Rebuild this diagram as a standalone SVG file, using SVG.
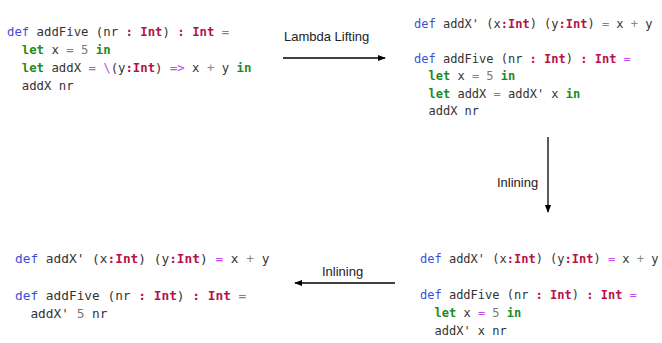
<svg xmlns="http://www.w3.org/2000/svg" width="662" height="343" viewBox="0 0 662 343">
<defs>
<style>
.code{font-family:"DejaVu Sans Mono","Liberation Mono",monospace;fill:#333;white-space:pre}
.k{fill:#3d4fd6}
.t{fill:#b5124a;font-weight:bold}
.l{fill:#1f8a1f;font-weight:bold}
.o{fill:#c24ce8}
.n{fill:#777}
.g{fill:#888}
.lbl{font-family:"Liberation Sans",Arial,sans-serif;font-size:13px;fill:#222}
.edge{stroke:#000;stroke-width:1.3;fill:none}
</style>
<marker id="ah" viewBox="0 0 10 10" refX="9" refY="5" markerWidth="8" markerHeight="8" markerUnits="userSpaceOnUse" orient="auto">
<path d="M0,1 L10,5 L0,9 z" fill="#000"/>
</marker>
</defs>
<rect width="662" height="343" fill="#fff"/>

<g id="node-original" class="code" font-size="12.3">
<text x="7" y="35.5"><tspan class="k">def</tspan> addFive (nr <tspan class="t">:</tspan> <tspan class="t">Int</tspan>) <tspan class="t">:</tspan> <tspan class="t">Int</tspan> <tspan class="o">=</tspan></text>
<text x="21.8" y="53.5"><tspan class="l">let</tspan> x <tspan class="o">=</tspan> <tspan class="n">5</tspan> <tspan class="l">in</tspan></text>
<text x="21.8" y="71.5"><tspan class="l">let</tspan> addX <tspan class="o">=</tspan> <tspan class="o">\</tspan>(y<tspan class="t">:Int</tspan>) <tspan class="o">=&gt;</tspan> x <tspan class="g">+</tspan> y <tspan class="l">in</tspan></text>
<text x="21.8" y="89.5">addX nr</text>
</g>

<g id="node-lifted" class="code" font-size="12">
<text x="414" y="27.5"><tspan class="k">def</tspan> addX' (x<tspan class="t">:Int</tspan>) (y<tspan class="t">:Int</tspan>) <tspan class="o">=</tspan> x <tspan class="g">+</tspan> y</text>
<text x="414" y="62.5"><tspan class="k">def</tspan> addFive (nr <tspan class="t">:</tspan> <tspan class="t">Int</tspan>) <tspan class="t">:</tspan> <tspan class="t">Int</tspan> <tspan class="o">=</tspan></text>
<text x="428.5" y="80"><tspan class="l">let</tspan> x <tspan class="o">=</tspan> <tspan class="n">5</tspan> <tspan class="l">in</tspan></text>
<text x="428.5" y="97.5"><tspan class="l">let</tspan> addX <tspan class="o">=</tspan> addX' x <tspan class="l">in</tspan></text>
<text x="428.5" y="115">addX nr</text>
</g>

<g id="node-inlined1" class="code" font-size="12">
<text x="420" y="262.5"><tspan class="k">def</tspan> addX' (x<tspan class="t">:Int</tspan>) (y<tspan class="t">:Int</tspan>) <tspan class="o">=</tspan> x <tspan class="g">+</tspan> y</text>
<text x="420" y="298.5"><tspan class="k">def</tspan> addFive (nr <tspan class="t">:</tspan> <tspan class="t">Int</tspan>) <tspan class="t">:</tspan> <tspan class="t">Int</tspan> <tspan class="o">=</tspan></text>
<text x="434.5" y="316.5"><tspan class="l">let</tspan> x <tspan class="o">=</tspan> <tspan class="n">5</tspan> <tspan class="l">in</tspan></text>
<text x="434.5" y="334.5">addX' x nr</text>
</g>

<g id="node-inlined2" class="code" font-size="12.8">
<text x="15" y="262.5"><tspan class="k">def</tspan> addX' (x<tspan class="t">:Int</tspan>) (y<tspan class="t">:Int</tspan>) <tspan class="o">=</tspan> x <tspan class="g">+</tspan> y</text>
<text x="15" y="299.5"><tspan class="k">def</tspan> addFive (nr <tspan class="t">:</tspan> <tspan class="t">Int</tspan>) <tspan class="t">:</tspan> <tspan class="t">Int</tspan> <tspan class="o">=</tspan></text>
<text x="30.4" y="317.5">addX' <tspan class="n">5</tspan> nr</text>
</g>

<g id="connectors">
<line class="edge" x1="283" y1="58" x2="385" y2="58" marker-end="url(#ah)"/>
<text class="lbl" x="284" y="41" font-size="13.3">Lambda Lifting</text>
<line class="edge" x1="548" y1="137" x2="548" y2="212" marker-end="url(#ah)"/>
<text class="lbl" x="497" y="187">Inlining</text>
<line class="edge" x1="395" y1="283" x2="295" y2="283" marker-end="url(#ah)"/>
<text class="lbl" x="322" y="276">Inlining</text>
</g>
</svg>
